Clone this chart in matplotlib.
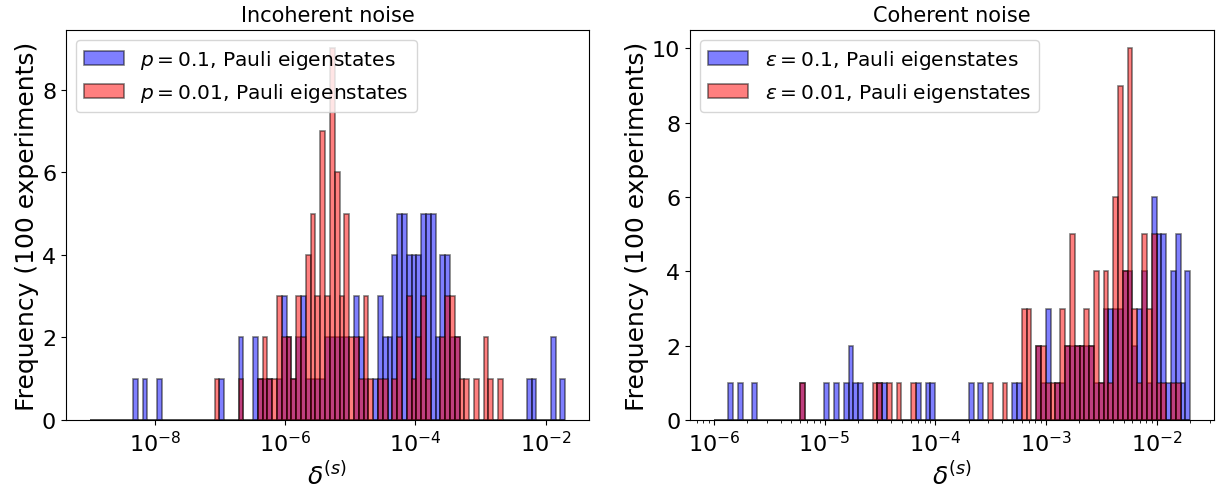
import matplotlib
matplotlib.use('Agg')
import matplotlib.pyplot as plt
import numpy as np

# histogram counts per log-spaced bin (99 bins per panel)
inc_p01 = [0,0,0,0,0,0,0,0,0,1,0,
           1,0,0,1,0,0,0,0,0,0,0,
           0,0,0,0,0,1,0,0,0,2,0,
           0,2,1,1,1,0,1,3,2,1,2,
           3,1,1,1,1,2,2,2,2,2,0,
           3,2,1,0,1,3,2,2,4,5,5,
           4,4,4,5,5,5,2,4,4,2,2,
           0,0,0,0,0,0,0,0,0,0,0,
           0,0,0,1,1,0,0,0,2,0,1]
inc_p001 = [0,0,0,0,0,0,0,0,0,0,0,
            0,0,0,0,0,0,0,0,0,0,0,
            0,0,0,0,1,0,0,0,0,1,0,
            0,0,1,2,1,1,3,2,2,1,3,
            2,4,5,3,7,3,9,6,3,5,2,
            2,1,3,1,0,1,1,0,1,2,0,
            3,1,2,3,1,0,0,2,3,3,2,
            1,1,0,1,0,2,1,0,1,0,0,
            0,0,0,0,0,0,0,0,0,0,0]
coh_e01 = [0,0,0,1,0,1,0,0,1,0,0,
           0,0,0,0,0,0,0,1,0,0,0,
           0,1,0,1,0,1,2,1,1,0,0,
           0,1,1,0,0,0,0,0,0,1,0,
           1,1,0,0,0,0,0,0,0,1,0,
           1,0,0,0,0,0,0,1,1,0,0,
           0,2,1,3,0,1,1,2,2,2,2,
           2,2,1,1,3,3,3,3,4,4,2,
           3,4,1,6,5,5,1,4,5,1,4]
coh_e001 = [0,0,0,0,0,0,0,0,0,0,0,
            0,0,0,0,0,0,0,1,0,0,0,
            0,0,0,0,0,0,0,0,0,0,0,
            1,1,0,1,0,1,0,0,1,0,0,
            0,0,0,0,0,0,0,0,0,0,0,
            0,0,1,0,0,1,0,0,0,3,3,
            0,2,2,1,1,1,3,2,5,2,2,
            3,2,4,1,4,1,6,9,4,10,3,
            1,5,3,5,1,1,0,1,1,0,0]

inc_edges = np.logspace(-9, np.log10(0.02), 100)
coh_edges = np.logspace(-6, np.log10(0.02), 100)
inc_ticks = [1e-8, 1e-6, 1e-4, 1e-2]
coh_ticks = [1e-6, 1e-5, 1e-4, 1e-3, 1e-2]

fig = plt.figure(figsize=(12.28, 4.89), dpi=100)
ax1 = fig.add_axes([0.0537, 0.139, 0.426, 0.798])
ax2 = fig.add_axes([0.5619, 0.139, 0.4267, 0.798])

def draw(ax, edges, c1, c2, lab1, lab2, title, ticks):
    centers = np.sqrt(edges[:-1] * edges[1:])
    ax.hist(centers, bins=edges, weights=c1, color='blue', alpha=0.5,
            edgecolor='k', linewidth=1.2, label=lab1)
    ax.hist(centers, bins=edges, weights=c2, color='red', alpha=0.5,
            edgecolor='k', linewidth=1.2, label=lab2)
    ax.set_xscale('log')
    ax.set_xticks(ticks)
    ax.set_title(title, fontsize=15)
    ax.set_xlabel(r'$\delta^{(s)}$', fontsize=18)
    ax.set_ylabel('Frequency (100 experiments)', fontsize=18, labelpad=2)
    ax.tick_params(labelsize=16)
    ax.legend(loc='upper left', fontsize=14.5)

draw(ax1, inc_edges, inc_p01, inc_p001,
     r'$p = 0.1$, Pauli eigenstates', r'$p = 0.01$, Pauli eigenstates',
     'Incoherent noise', inc_ticks)
draw(ax2, coh_edges, coh_e01, coh_e001,
     r'$\epsilon = 0.1$, Pauli eigenstates', r'$\epsilon = 0.01$, Pauli eigenstates',
     'Coherent noise', coh_ticks)

fig.savefig('out.png', dpi=100)
